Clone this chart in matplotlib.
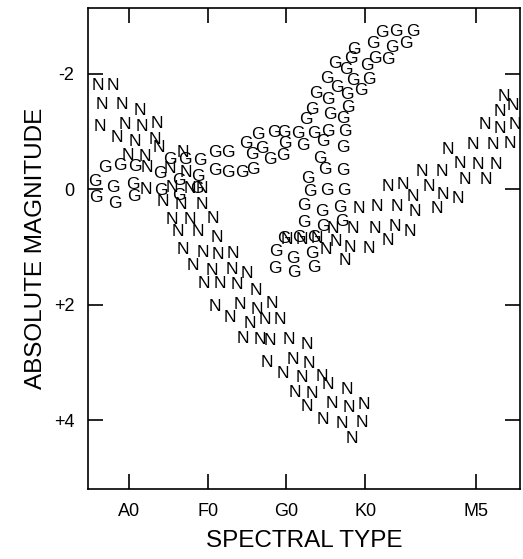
import matplotlib
matplotlib.use("Agg")
import matplotlib.pyplot as plt

plt.rcParams['font.family'] = ['Liberation Sans', 'DejaVu Sans']

# spectral type axis: A0=0, F0=10, G0=20, K0=30 (subclasses), M5
tick_pos = [0, 10, 20, 30, 44.1]
tick_names = ['A0', 'F0', 'G0', 'K0', 'M5']
mag_ticks = [-2, 0, 2, 4]
mag_names = ['-2', '0', '+2', '+4']

# "G" stars (spectral type, absolute magnitude)
g_type = [32.11, 33.93, 36.05, 28.59, 31.04, 33.38, 35.20, 28.17, 31.26, 32.95,
          30.28, 26.17, 27.57, 25.12, 28.50, 30.53, 26.47, 27.74, 29.44, 23.76,
          25.32, 23.21, 27.86, 22.49, 25.54, 27.15, 16.43, 18.42, 19.69, 21.51,
          23.51, 25.32, 27.44, 14.87, 19.82, 22.07, 24.61, 27.15, 16.86, 15.59,
          19.61, 24.27, 17.92, 10.93, 12.62, 9.02, 7.05, 5.15, 10.93, 12.62,
          14.32, 15.79, 3.94, 8.70, 6.35, -3.05, -1.14, 0.76, -4.32, -1.99,
          0.44, 4.07, 8.64, 6.35, -4.19, -1.78, 0.64, 22.68, 23.00, 22.24,
          22.24, 24.90, 27.15, 25.20, 27.32, 24.48, 26.81, 24.59, 27.03, 19.63,
          21.54, 23.44, 18.68, 20.88, 23.21, 18.55, 20.96, 23.47]
g_mag = [-2.715, -2.732, -2.732, -2.428, -2.520, -2.462, -2.532, -2.260, -2.272, -2.255,
         -2.139, -2.185, -2.069, -1.926, -1.884, -1.908, -1.770, -1.636, -1.711, -1.654,
         -1.562, -1.389, -1.416, -1.216, -1.290, -1.233, -0.944, -0.984, -0.984, -0.973,
         -0.961, -1.001, -1.001, -0.800, -0.800, -0.753, -0.828, -0.731, -0.713, -0.597,
         -0.580, -0.540, -0.511, -0.632, -0.632, -0.506, -0.511, -0.511, -0.329, -0.286,
         -0.291, -0.350, -0.281, -0.222, -0.156, -0.384, -0.407, -0.395, -0.139, -0.031,
         -0.087, 0.026, -0.009, 0.104, 0.147, 0.251, 0.121, -0.182, 0.035, 0.286,
         0.571, -0.338, -0.326, 0.021, 0.021, 0.384, 0.308, 0.649, 0.558, 0.848,
         0.840, 0.828, 1.077, 1.191, 1.117, 1.365, 1.446, 1.347]

# "N" stars along the diagonal band
n_type = [-3.90, -1.99, -3.47, -0.93, 1.40, -3.68, -0.51, 1.61, 3.60, -1.56,
          0.76, 3.30, 3.81, -0.09, 2.03, 6.90, 2.25, 5.15, 7.28, 2.10,
          5.43, 7.75, 9.24, 4.26, 6.58, 9.24, 5.43, 7.75, 10.71, 6.20,
          8.74, 11.14, 6.90, 9.34, 11.35, 13.25, 8.17, 10.51, 13.05, 14.96,
          9.49, 11.56, 13.68, 16.07, 10.93, 14.10, 16.23, 18.13, 12.83, 15.37,
          17.28, 19.19, 14.52, 16.64, 17.92, 20.37, 22.58, 17.50, 20.80, 22.91,
          19.61, 21.94, 24.48, 25.32, 27.66, 21.09, 23.21, 22.58, 25.76, 27.99,
          29.86, 24.61, 27.03, 29.57, 28.30]
n_mag = [-1.792, -1.792, -1.475, -1.475, -1.365, -1.087, -1.117, -1.087, -1.134, -0.904,
         -0.828, -0.857, -0.731, -0.580, -0.568, -0.637, -0.384, -0.364, -0.294, 0.009,
         -0.035, -0.017, -0.009, 0.211, 0.268, 0.268, 0.516, 0.516, 0.499, 0.731,
         0.731, 0.831, 1.048, 1.091, 1.134, 1.105, 1.325, 1.399, 1.394, 1.463,
         1.631, 1.636, 1.654, 1.758, 2.035, 2.000, 2.074, 1.983, 2.225, 2.317,
         2.260, 2.260, 2.577, 2.594, 2.618, 2.606, 2.693, 2.999, 2.952, 3.010,
         3.195, 3.252, 3.242, 3.385, 3.460, 3.519, 3.541, 3.761, 3.714, 3.771,
         3.732, 3.979, 4.049, 4.038, 4.308]

# "N" stars along the rising band to the right
n2_type = [20.08, 21.94, 23.85, 25.03, 26.30, 25.92, 27.38, 28.08, 28.50, 29.20,
           30.53, 31.26, 31.47, 32.85, 32.85, 33.80, 34.01, 34.85, 35.70, 36.12,
           36.34, 37.19, 38.16, 39.10, 39.73, 39.93, 40.57, 41.84, 42.06, 42.69,
           43.75, 44.38, 45.23, 45.36, 46.29, 46.63, 47.14, 47.14, 47.65, 48.41,
           48.75, 49.04]
n2_mag = [0.874, 0.874, 0.845, 1.036, 0.904, 0.672, 1.238, 1.004, 0.672, 0.326,
          1.018, 0.675, 0.298, -0.048, 0.880, 0.644, 0.298, -0.078, 0.731, 0.125,
          0.384, -0.308, -0.048, 0.326, -0.308, 0.095, -0.684, 0.152, -0.454, -0.165,
          -0.771, -0.424, -1.117, -0.165, -0.771, -0.424, -1.060, -1.347, -1.607, -0.800,
          -1.446, -1.117]

fig = plt.figure(figsize=(5.23, 5.59), dpi=100)
ax = fig.add_axes([0.1683, 0.1252, 0.8260, 0.8605])

for x, y in zip(g_type, g_mag):
    ax.text(x, y, 'G', ha='center', va='center', fontsize=12.5)
for x, y in zip(n_type + n2_type, n_mag + n2_mag):
    ax.text(x, y, 'N', ha='center', va='center', fontsize=12.5)

ax.set_xlim(-5.21, 49.68)
ax.set_ylim(5.19, -3.14)
ax.set_xticks(tick_pos)
ax.set_xticklabels(tick_names)
ax.set_yticks(mag_ticks)
ax.set_yticklabels(mag_names)
ax.tick_params(direction='in', length=11, width=1.2, top=True, right=True,
               labelsize=13, pad=10)
for s in ax.spines.values():
    s.set_linewidth(1.2)

ax.set_xlabel('SPECTRAL TYPE', fontsize=17.5, labelpad=7)
ax.set_ylabel('ABSOLUTE MAGNITUDE', fontsize=17.5, labelpad=5)

fig.savefig('out.png', dpi=100)
